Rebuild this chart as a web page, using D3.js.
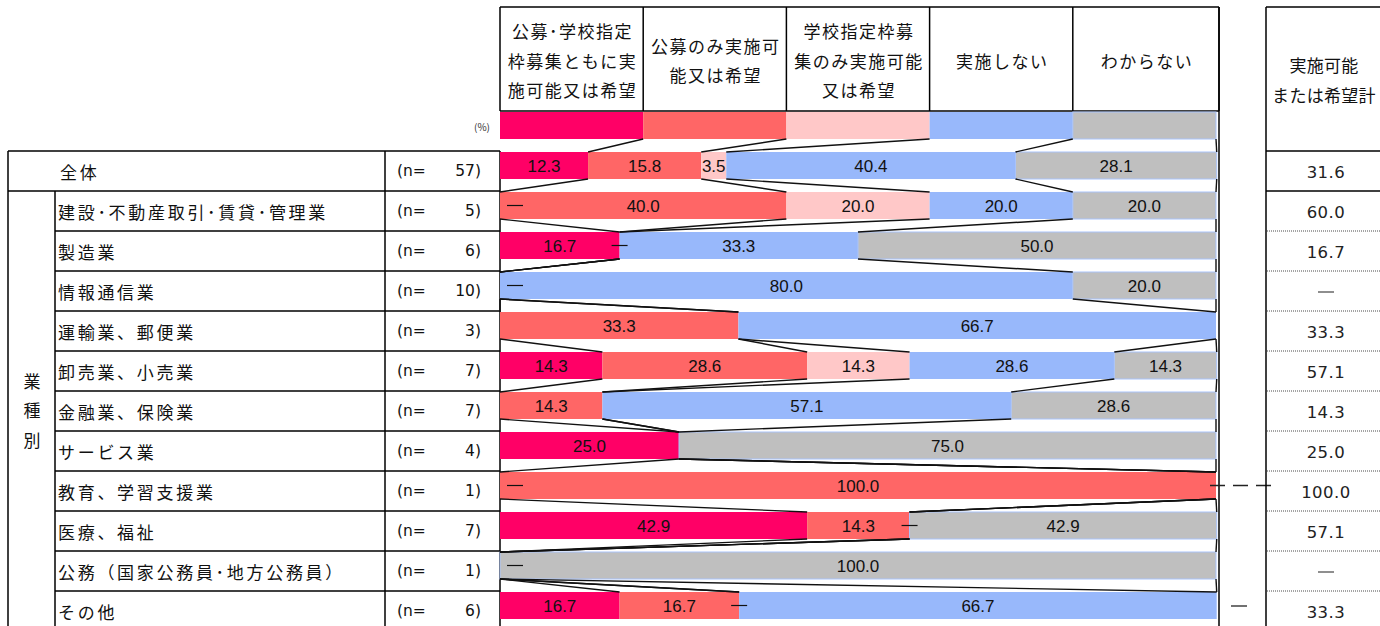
<!DOCTYPE html>
<html lang="ja">
<head>
<meta charset="utf-8">
<script src="https://cdn.jsdelivr.net/npm/d3@7"></script>
<style>
  html, body { margin: 0; padding: 0; background: #fff; }
  svg { display: block; }
</style>
</head>
<body>
<svg id="chart" width="1380" height="626"></svg>
<script>
// ---- data ----
const headerLines = [
  ["公募･学校指定", "枠募集ともに実", "施可能又は希望"],
  ["公募のみ実施可", "能又は希望"],
  ["学校指定枠募", "集のみ実施可能", "又は希望"],
  ["実施しない"],
  ["わからない"]
];
const totalHeader = ["実施可能", "または希望計"];
const rowLabels = [
  "全体",
  "建設･不動産取引･賃貸･管理業",
  "製造業",
  "情報通信業",
  "運輸業、郵便業",
  "卸売業、小売業",
  "金融業、保険業",
  "サービス業",
  "教育、学習支援業",
  "医療、福祉",
  "公務（国家公務員･地方公務員）",
  "その他"
];
const sampleN = [57, 5, 6, 10, 3, 7, 7, 4, 1, 7, 1, 6];
const bothPossible   = [12.3, 0, 16.7, 0, 0, 14.3, 0, 25.0, 0, 42.9, 0, 16.7];
const publicOnly     = [15.8, 40.0, 0, 0, 33.3, 28.6, 14.3, 0, 100.0, 14.3, 0, 16.7];
const schoolOnly     = [3.5, 20.0, 0, 0, 0, 14.3, 0, 0, 0, 0, 0, 0];
const notImplemented = [40.4, 20.0, 33.3, 80.0, 66.7, 28.6, 57.1, 0, 0, 0, 0, 66.7];
const unknown        = [28.1, 20.0, 50.0, 20.0, 0, 14.3, 28.6, 75.0, 0, 42.9, 100.0, 0];
const totalPossible  = [31.6, 60.0, 16.7, null, 33.3, 57.1, 14.3, 25.0, 100.0, 57.1, null, 33.3];
// series index at which a "—" marks a zero share, per row (null = none)
const zeroMarks = [null, 0, 1, 0, null, null, null, null, 0, 2, 0, 2];
const groupLabel = ["業", "種", "別"];
const legendShares = [20, 20, 20, 20, 20];

const series = [bothPossible, publicOnly, schoolOnly, notImplemented, unknown];
const colors = ["#ff0066", "#ff6666", "#ffc8c8", "#98b8fb", "#bfbfbf"];

// ---- layout ----
const svg = d3.select("#chart");
const JP = "'Noto Sans CJK JP', sans-serif";
const x = d3.scaleLinear().domain([0, 100]).range([500, 1216]);
const y = d3.scaleBand().domain(d3.range(rowLabels.length)).range([151, 151 + 40 * rowLabels.length]);
const barTop = i => y(i) + 1;
const barH = 27;
const headerTop = 7, headerBottom = 111, legendTop = 112, legendH = 27;
const line = (g, x1, y1, x2, y2, w = 1.5, c = "#000") =>
  g.append("line").attr("x1", x1).attr("y1", y1).attr("x2", x2).attr("y2", y2)
   .attr("stroke", c).attr("stroke-width", w);
const jpText = (g, t, px, py, anchor = "start", spacing = 2) =>
  g.append("text").attr("x", px).attr("y", py).attr("text-anchor", anchor)
   .attr("dominant-baseline", "central").attr("font-family", JP).attr("font-size", 17)
   .style("letter-spacing", spacing + "px").attr("fill", "#111").text(t);

// stacked segments per row
const stacked = rowLabels.map((_, i) => {
  let acc = 0;
  return series.map((s, k) => { const v = s[i]; const seg = { k, v, x0: acc, x1: acc + v }; acc += v; return seg; });
});
const legendStack = (() => { let acc = 0; return legendShares.map((v, k) => { const s = { k, v, x0: acc, x1: acc + v }; acc += v; return s; }); })();

// ---- bar column header ----
const hdr = svg.append("g");
const colEdges = [x(0), x(20), x(40), x(60), x(80), 1219];
line(hdr, colEdges[0], headerTop, colEdges[5], headerTop);
line(hdr, colEdges[0], headerBottom, colEdges[5], headerBottom);
colEdges.forEach(e => line(hdr, e, headerTop, e, headerBottom));
headerLines.forEach((lines, k) => {
  const cx = (colEdges[k] + colEdges[k + 1]) / 2 + 1;
  const n = lines.length;
  lines.forEach((t, j) => jpText(hdr, t, cx, 60 + (j - (n - 1) / 2) * 29.5, "middle", 1.5));
});
hdr.append("text").attr("x", 482).attr("y", 126).attr("text-anchor", "middle")
  .attr("dominant-baseline", "central").attr("font-family", JP).attr("font-size", 10)
  .attr("fill", "#333").text("(%)");

// legend swatches
const leg = svg.append("g");
leg.selectAll("rect").data(legendStack).join("rect")
  .attr("x", d => x(d.x0)).attr("y", legendTop)
  .attr("width", d => x(d.x1) - x(d.x0)).attr("height", legendH)
  .attr("fill", d => colors[d.k])
  .attr("stroke", d => d.k === 4 ? "#a9c3fa" : "none").attr("stroke-width", 1);

// ---- left table ----
const tbl = svg.append("g");
const tableBottom = y(rowLabels.length - 1) + 40;
line(tbl, 8, 151, 500, 151);
line(tbl, 8, 191, 500, 191);
for (let i = 2; i < rowLabels.length; i++) line(tbl, 55, y(i), 500, y(i));
line(tbl, 8, 151, 8, tableBottom);
line(tbl, 55, 191, 55, tableBottom);
line(tbl, 385, 151, 385, tableBottom);
line(tbl, 500, 151, 500, tableBottom);

rowLabels.forEach((t, i) => {
  const cy = y(i) + 20;
  jpText(tbl, t, i === 0 ? 60 : 58, cy, "start", 2.7);
  tbl.append("text").attr("x", 397).attr("y", cy)
    .attr("dominant-baseline", "central").attr("font-family", "'DejaVu Sans', sans-serif")
    .attr("font-size", 15.5).attr("fill", "#111").text("(n=");
  tbl.append("text").attr("x", 481).attr("y", cy).attr("text-anchor", "end")
    .attr("dominant-baseline", "central").attr("font-family", "'DejaVu Sans', sans-serif")
    .attr("font-size", 15.5).attr("fill", "#111").text(sampleN[i] + ")");
});
groupLabel.forEach((t, j) => jpText(tbl, t, 32, 380 + j * 29.5, "middle", 0));

// ---- bars ----
const bars = svg.append("g");
stacked.forEach((segs, i) => {
  const g = bars.append("g");
  g.selectAll("rect").data(segs.filter(d => d.v > 0)).join("rect")
    .attr("x", d => x(d.x0)).attr("y", barTop(i))
    .attr("width", d => x(d.x1) - x(d.x0)).attr("height", barH)
    .attr("fill", d => colors[d.k])
    .attr("stroke", d => d.k === 4 ? "#a9c3fa" : "none").attr("stroke-width", 1);
  g.selectAll("text").data(segs.filter(d => d.v > 0)).join("text")
    .attr("x", d => (x(d.x0) + x(d.x1)) / 2).attr("y", barTop(i) + barH / 2 + 0.5)
    .attr("text-anchor", "middle").attr("dominant-baseline", "central")
    .attr("font-family", "'Liberation Sans', Arial, sans-serif").attr("font-size", 17)
    .attr("fill", "#111").text(d => d.v.toFixed(1));
  if (zeroMarks[i] !== null) {
    const pos = Math.max(x(segs[zeroMarks[i]].x0), x(0) + 15);
    line(g, pos - 8, barTop(i) + barH / 2, pos + 8, barTop(i) + barH / 2, 1.2, "#111");
  }
});

// connector lines between consecutive bars at each cumulative boundary
const conn = svg.append("g");
const bounds = [legendStack].concat(stacked);
for (let r = 0; r < bounds.length - 1; r++) {
  const yA = r === 0 ? legendTop + legendH : barTop(r - 1) + barH;
  const yB = barTop(r);
  for (let k = 0; k < 5; k++) {
    const xa = x(bounds[r][k].x1), xb = x(bounds[r + 1][k].x1);
    line(conn, xa, yA, xb, yB, 1.4, "#111");
  }
}
line(conn, 1219, headerTop, 1219, 626, 1.5);

// stray marks beside the bar area
const extra = svg.append("g");
const eduRow = 8, otherRow = 11;
extra.append("line").attr("x1", 1210).attr("x2", 1271)
  .attr("y1", barTop(eduRow) + barH / 2).attr("y2", barTop(eduRow) + barH / 2)
  .attr("stroke", "#222").attr("stroke-width", 1.3).attr("stroke-dasharray", "15 8");
line(extra, 1231, barTop(otherRow) + barH / 2 + 0.5, 1247, barTop(otherRow) + barH / 2 + 0.5, 1.2, "#111");

// ---- right total column ----
const rt = svg.append("g");
line(rt, 1266, headerTop, 1390, headerTop);
line(rt, 1266, headerTop, 1266, 626);
line(rt, 1266, 151, 1390, 151);
line(rt, 1266, 191, 1390, 191);
for (let i = 2; i < rowLabels.length; i++) {
  rt.append("line").attr("x1", 1267).attr("x2", 1390).attr("y1", y(i)).attr("y2", y(i))
    .attr("stroke", "#888").attr("stroke-width", 1.5).attr("stroke-dasharray", "1 1");
}
totalHeader.forEach((t, j) => jpText(rt, t, 1324, 64 + j * 30, "middle", 0.3));
totalPossible.forEach((v, i) => {
  const cy = y(i) + 21;
  if (v === null) {
    line(rt, 1318, cy, 1334, cy, 1.2, "#444");
  } else {
    rt.append("text").attr("x", 1326).attr("y", cy).attr("text-anchor", "middle")
      .attr("dominant-baseline", "central").attr("font-family", "'DejaVu Sans', sans-serif")
      .attr("font-size", 16.5).style("letter-spacing", "0.5px").attr("fill", "#222").text(v.toFixed(1));
  }
});
</script>
</body>
</html>
